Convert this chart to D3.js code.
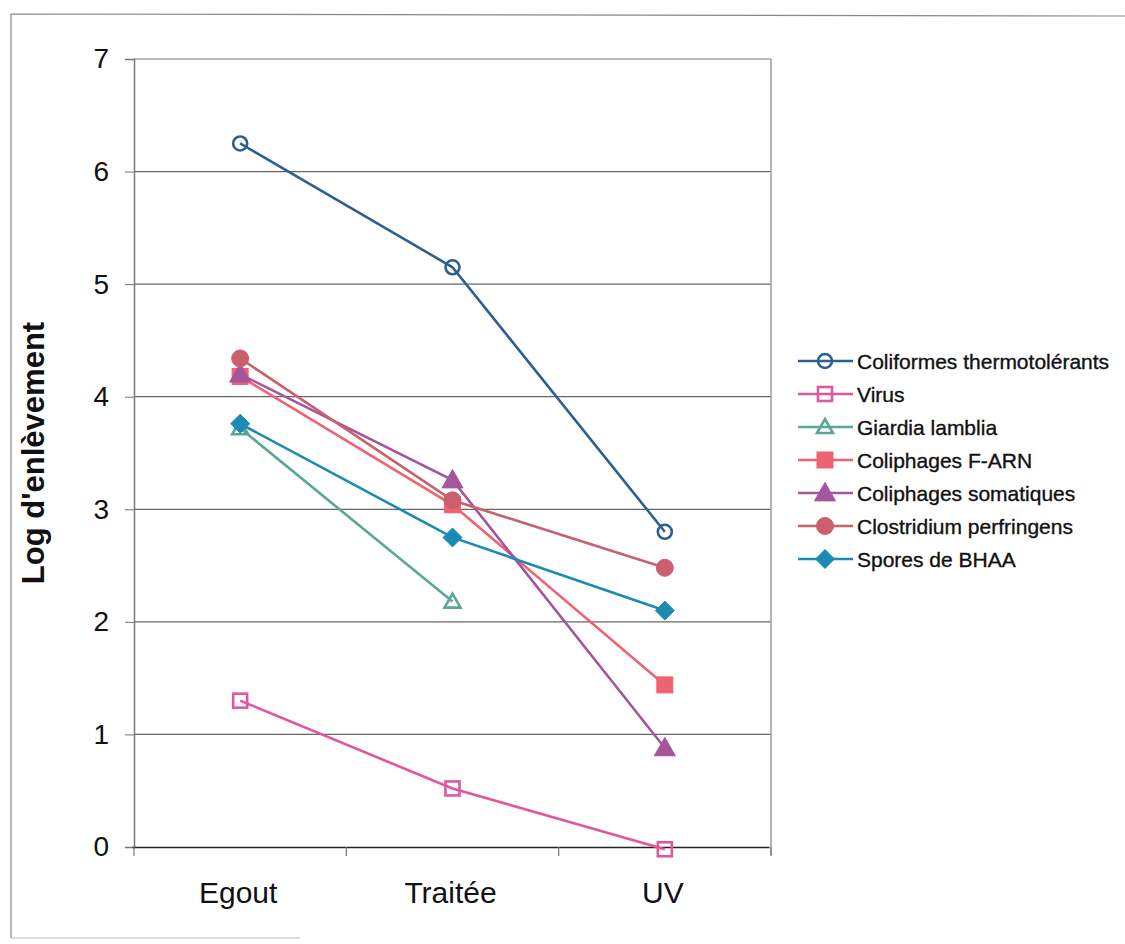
<!DOCTYPE html>
<html>
<head>
<meta charset="utf-8">
<script src="https://cdn.jsdelivr.net/npm/d3@7"></script>
<style>
  body { margin: 0; background: #fff; }
  svg { font-family: "Liberation Sans", Arial, sans-serif; }
</style>
</head>
<body>
<svg id="chart" width="1125" height="944"></svg>
<script>
const categories = ["Egout", "Traitée", "UV"];
const yTicks = [0, 1, 2, 3, 4, 5, 6, 7];

const seriesNames = [
  "Coliformes thermotolérants", "Virus", "Giardia lamblia", "Coliphages F-ARN",
  "Coliphages somatiques", "Clostridium perfringens", "Spores de BHAA"
];
const coliformes = [6.25, 5.15, 2.8];
const virus = [1.3, 0.52, -0.02];
const giardia = [3.72, 2.18, null];
const fArn = [4.18, 3.04, 1.44];
const somatiques = [4.2, 3.26, 0.88];
const clostridium = [4.34, 3.08, 2.48];
const bhaa = [3.76, 2.75, 2.1];

const seriesValues = [coliformes, virus, giardia, fArn, somatiques, clostridium, bhaa];
const colors = ["#2d6090", "#e2559f", "#5aa697", "#ef6272", "#a5559b", "#c9606c", "#1b8bb2"];
const shapes = ["circleO", "squareO", "triangleO", "square", "triangle", "circle", "diamond"];

const svg = d3.select("#chart");
const plotLeft = 134, plotRight = 771, plotTop = 59, plotBottom = 847;

const x = d3.scaleBand().domain(categories).range([plotLeft, plotRight]);
const y = d3.scaleLinear().domain([0, 7]).range([plotBottom, plotTop]);

// outer frame
svg.append("path")
  .attr("d", "M11,938 L11,14 L1125,16")
  .attr("fill", "none").attr("stroke", "#888").attr("stroke-width", 1.2);
svg.append("line").attr("x1", 11).attr("x2", 300).attr("y1", 938).attr("y2", 938)
  .attr("stroke", "#bbb");

// gridlines
svg.append("g").selectAll("line").data(yTicks.filter(d => d > 0)).join("line")
  .attr("x1", plotLeft).attr("x2", plotRight)
  .attr("y1", d => y(d)).attr("y2", d => y(d))
  .attr("stroke", d => d === 7 ? "#9aa3ad" : "#666").attr("stroke-width", 1.3);

// right border
svg.append("line").attr("x1", plotRight).attr("x2", plotRight).attr("y1", plotTop).attr("y2", plotBottom + 8)
  .attr("stroke", "#9aa3ad").attr("stroke-width", 1.6);

// y axis
const yAxis = svg.append("g").attr("transform", `translate(${plotLeft},0)`)
  .call(d3.axisLeft(y).tickValues(yTicks).tickSize(9).tickPadding(16).tickFormat(d3.format("d")));
yAxis.select(".domain").attr("stroke", "#777").attr("stroke-width", 1.5);
yAxis.selectAll(".tick line").attr("stroke", "#777");
yAxis.selectAll("text").attr("font-size", 28).attr("fill", "#111")
  .attr("font-family", "Liberation Sans, Arial, sans-serif");

// x axis
const xAxis = svg.append("g").attr("transform", `translate(-2,${plotBottom})`)
  .call(d3.axisBottom(x).tickSize(0).tickPadding(35));
xAxis.select(".domain").attr("stroke", "#222").attr("stroke-width", 1.6);
xAxis.selectAll("text").attr("font-size", 30).attr("fill", "#111")
  .attr("font-family", "Liberation Sans, Arial, sans-serif");
svg.append("g").selectAll("line").data(categories.concat(["end"])).join("line")
  .attr("x1", (d, i) => i < categories.length ? x(d) : x.range()[1])
  .attr("x2", (d, i) => i < categories.length ? x(d) : x.range()[1])
  .attr("y1", plotBottom).attr("y2", plotBottom + 9)
  .attr("stroke", "#777").attr("stroke-width", 1.2);

// y title
svg.append("text")
  .attr("transform", `translate(44,${(plotTop + plotBottom) / 2}) rotate(-90)`)
  .attr("text-anchor", "middle")
  .attr("font-size", 31).attr("font-weight", "bold").attr("fill", "#111")
  .text("Log d'enlèvement");

function drawMarker(g, shape, color, cx, cy) {
  const filled = !shape.endsWith("O");
  const base = filled ? shape : shape.slice(0, -1);
  let el;
  if (base === "circle") {
    el = g.append("circle").attr("cx", cx).attr("cy", cy).attr("r", filled ? 8.5 : 7);
  } else if (base === "square") {
    const s = filled ? 16 : 14;
    el = g.append("rect").attr("x", cx - s / 2).attr("y", cy - s / 2).attr("width", s).attr("height", s);
  } else if (base === "triangle") {
    const s = filled ? 10.5 : 8;
    el = g.append("path").attr("d", `M${cx},${cy - s} L${cx + s},${cy + s * 0.75} L${cx - s},${cy + s * 0.75} Z`);
  } else {
    const s = 9.5;
    el = g.append("path").attr("d", `M${cx},${cy - s} L${cx + s},${cy} L${cx},${cy + s} L${cx - s},${cy} Z`);
  }
  if (filled) el.attr("fill", color).attr("stroke", color).attr("stroke-width", 1);
  else el.attr("fill", "none").attr("stroke", color).attr("stroke-width", 2.6);
}

const line = d3.line()
  .defined(d => d.v !== null)
  .x(d => x(d.c) + x.bandwidth() / 2)
  .y(d => y(d.v));

seriesValues.forEach((vals, i) => {
  const pts = vals.map((v, j) => ({ c: categories[j], v }));
  const g = svg.append("g");
  g.append("path").datum(pts).attr("d", line)
    .attr("fill", "none").attr("stroke", colors[i]).attr("stroke-width", 2.6);
  pts.filter(p => p.v !== null).forEach(p => {
    drawMarker(g, shapes[i], colors[i], x(p.c) + x.bandwidth() / 2, y(p.v));
  });
});

// legend
const legend = svg.append("g");
seriesNames.forEach((name, i) => {
  const ly = 361 + i * 33;
  const g = legend.append("g");
  g.append("line").attr("x1", 798).attr("x2", 853).attr("y1", ly).attr("y2", ly)
    .attr("stroke", colors[i]).attr("stroke-width", 2.6);
  drawMarker(g, shapes[i], colors[i], 825, ly);
  g.append("text").attr("x", 857).attr("y", ly).attr("dy", "0.36em")
    .attr("font-size", 21).attr("fill", "#111").attr("stroke", "#111").attr("stroke-width", 0.35)
    .text(name);
});
</script>
</body>
</html>
